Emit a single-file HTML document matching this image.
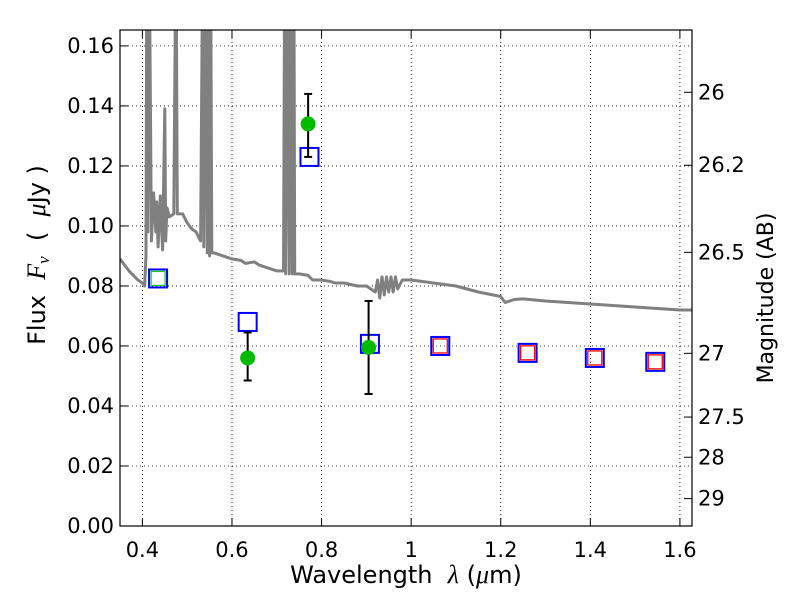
<!DOCTYPE html>
<html><head><meta charset="utf-8"><style>
body{margin:0;background:#fff;}
svg{display:block;font-family:"DejaVu Sans","Liberation Sans",sans-serif;}
svg text{white-space:pre;}
</style></head><body>
<svg id="chart" width="800" height="600"></svg>
<script>
const xTicks=[0.4,0.6,0.8,1.0,1.2,1.4,1.6];
const xTickLabels=["0.4","0.6","0.8","1","1.2","1.4","1.6"];
const yTicks=[0,0.02,0.04,0.06,0.08,0.10,0.12,0.14,0.16];
const yTickLabels=["0.00","0.02","0.04","0.06","0.08","0.10","0.12","0.14","0.16"];
const magTicks=[26,26.2,26.5,27,27.5,28,29];
const magTickLabels=["26","26.2","26.5","27","27.5","28","29"];
const specWave=[0.35,0.37,0.39,0.40,0.405,0.408,0.41,0.412,0.415,0.42,0.425,0.43,0.432,0.435,0.44,0.445,0.45,0.452,0.455,0.46,0.47,0.475,0.478,0.48,0.49,0.50,0.51,0.52,0.53,0.535,0.537,0.54,0.545,0.547,0.55,0.552,0.555,0.56,0.58,0.60,0.62,0.63,0.65,0.66,0.68,0.70,0.715,0.718,0.72,0.725,0.728,0.73,0.735,0.738,0.74,0.75,0.77,0.78,0.80,0.82,0.83,0.85,0.88,0.90,0.91,0.92,0.925,0.93,0.935,0.94,0.945,0.95,0.955,0.96,0.965,0.97,0.98,1.0,1.05,1.1,1.15,1.2,1.21,1.23,1.25,1.3,1.35,1.4,1.45,1.5,1.55,1.6,1.627];
const specFlux=[0.089,0.085,0.082,0.081,0.080,0.090,0.20,0.098,0.20,0.095,0.111,0.098,0.108,0.093,0.110,0.092,0.139,0.095,0.106,0.103,0.104,0.20,0.104,0.104,0.104,0.101,0.099,0.098,0.095,0.20,0.093,0.20,0.091,0.20,0.090,0.20,0.091,0.091,0.090,0.089,0.0885,0.0875,0.088,0.087,0.086,0.085,0.085,0.20,0.084,0.20,0.084,0.20,0.084,0.20,0.084,0.084,0.0835,0.082,0.082,0.0815,0.081,0.081,0.080,0.080,0.079,0.078,0.082,0.076,0.083,0.077,0.083,0.078,0.083,0.078,0.083,0.079,0.082,0.082,0.081,0.080,0.078,0.0765,0.0745,0.0755,0.0757,0.075,0.0745,0.074,0.0735,0.073,0.0725,0.072,0.072];
const photWave=[0.435,0.635,0.773,0.908,1.065,1.26,1.41,1.545];
const photFlux=[0.0825,0.068,0.123,0.0607,0.060,0.0577,0.0560,0.0547];
const innerWave=[0.435,1.065,1.26,1.41,1.545];
const innerFlux=[0.0825,0.060,0.0577,0.0560,0.0547];
const innerColor=["#22c822","red","red","red","red"];
const obsWave=[0.635,0.77,0.905];
const obsFlux=[0.056,0.134,0.0595];
const obsErrLo=[0.0485,0.123,0.044];
const obsErrHi=[0.0645,0.144,0.075];

const L=120,R=692,T=30,B=526,X0=0.35,X1=1.627,Y0=0,Y1=0.1653;
const sx=v=>L+(v-X0)/(X1-X0)*(R-L);
const sy=v=>B-(v-Y0)/(Y1-Y0)*(B-T);
const NS="http://www.w3.org/2000/svg";
const svg=document.getElementById('chart');
function mk(tag,attrs,parent){const e=document.createElementNS(NS,tag);for(const k in attrs)e.setAttribute(k,attrs[k]);(parent||svg).appendChild(e);return e;}
const defs=mk('defs',{});const cp=mk('clipPath',{id:'clip'},defs);mk('rect',{x:L,y:T,width:R-L,height:B-T},cp);

xTicks.forEach((t,i)=>{const g=mk('line',{x1:sx(t),x2:sx(t),y1:T,y2:B,stroke:'#000','stroke-width':0.8,'stroke-dasharray':'1,3'});


const tx=mk('text',{x:sx(t),y:B+31,'text-anchor':'middle','font-size':21,fill:'#000'});tx.textContent=xTickLabels[i];


mk('line',{x1:sx(t),x2:sx(t),y1:B,y2:B-8,stroke:'#000'});mk('line',{x1:sx(t),x2:sx(t),y1:T,y2:T+8,stroke:'#000'});});
yTicks.forEach((t,i)=>{const g=mk('line',{x1:L,x2:R,y1:sy(t),y2:sy(t),stroke:'#000','stroke-width':0.8,'stroke-dasharray':'1,3'});


const tx=mk('text',{x:L-6,y:sy(t)+7,'text-anchor':'end','font-size':21,fill:'#000'});tx.textContent=yTickLabels[i];


mk('line',{x1:L,x2:L+8,y1:sy(t),y2:sy(t),stroke:'#000'});});
magTicks.forEach((m,i)=>{const f=Math.pow(10,(23.9-m)/2.5);const y=sy(f);
mk('line',{x1:R,x2:R-8,y1:y,y2:y,stroke:'#000'});
const tx=mk('text',{x:R+6,y:y+7,'font-size':21,fill:'#000'});tx.textContent=magTickLabels[i];

});

const d=specWave.map((w,i)=>(i?'L':'M')+sx(w).toFixed(1)+','+sy(specFlux[i]).toFixed(1)).join('');
const sp=mk('path',{d:d,fill:'none',stroke:'#808080','stroke-width':3,'clip-path':'url(#clip)','stroke-linejoin':'round'});



photWave.forEach((w,i)=>{const r=mk('rect',{x:sx(w)-9,y:sy(photFlux[i])-9,width:18,height:18,fill:'none',stroke:'#0000ff','stroke-width':2});

});
innerWave.forEach((w,i)=>{const r=mk('rect',{x:sx(w)-7,y:sy(innerFlux[i])-7,width:14,height:14,fill:'none',stroke:innerColor[i],'stroke-width':1.3});

});
obsWave.forEach((w,i)=>{const x=sx(w);
const e=mk('line',{x1:x,x2:x,y1:sy(obsErrLo[i]),y2:sy(obsErrHi[i]),stroke:'#000','stroke-width':2});


mk('line',{x1:x-4,x2:x+4,y1:sy(obsErrLo[i]),y2:sy(obsErrLo[i]),stroke:'#000','stroke-width':2});
mk('line',{x1:x-4,x2:x+4,y1:sy(obsErrHi[i]),y2:sy(obsErrHi[i]),stroke:'#000','stroke-width':2});
const c=mk('circle',{cx:x,cy:sy(obsFlux[i]),r:7.5,fill:'#00bb00'});

});

const fr=mk('rect',{x:L,y:T,width:R-L,height:B-T,fill:'none',stroke:'#000','stroke-width':1.2});


const xl=mk('text',{x:406,y:583,'text-anchor':'middle','font-size':24});xl.innerHTML='Wavelength  <tspan font-family="Liberation Serif" font-style="italic" font-size="26">λ</tspan> (<tspan font-family="Liberation Serif" font-style="italic" font-size="26">μ</tspan>m)';


const yl=mk('text',{x:0,y:0,'text-anchor':'middle','font-size':24,transform:'translate(45,255) rotate(-90)'});yl.innerHTML='Flux  <tspan font-family="Liberation Serif" font-style="italic" font-size="26">F</tspan><tspan font-family="Liberation Serif" font-style="italic" font-size="17" dy="4">ν</tspan><tspan dy="-4">  (  </tspan><tspan font-family="Liberation Serif" font-style="italic" font-size="26">μ</tspan>Jy )';


const ml=mk('text',{x:0,y:0,'text-anchor':'middle','font-size':22,transform:'translate(773,298) rotate(-90)'});ml.textContent='Magnitude (AB)';


</script>
</body></html>
